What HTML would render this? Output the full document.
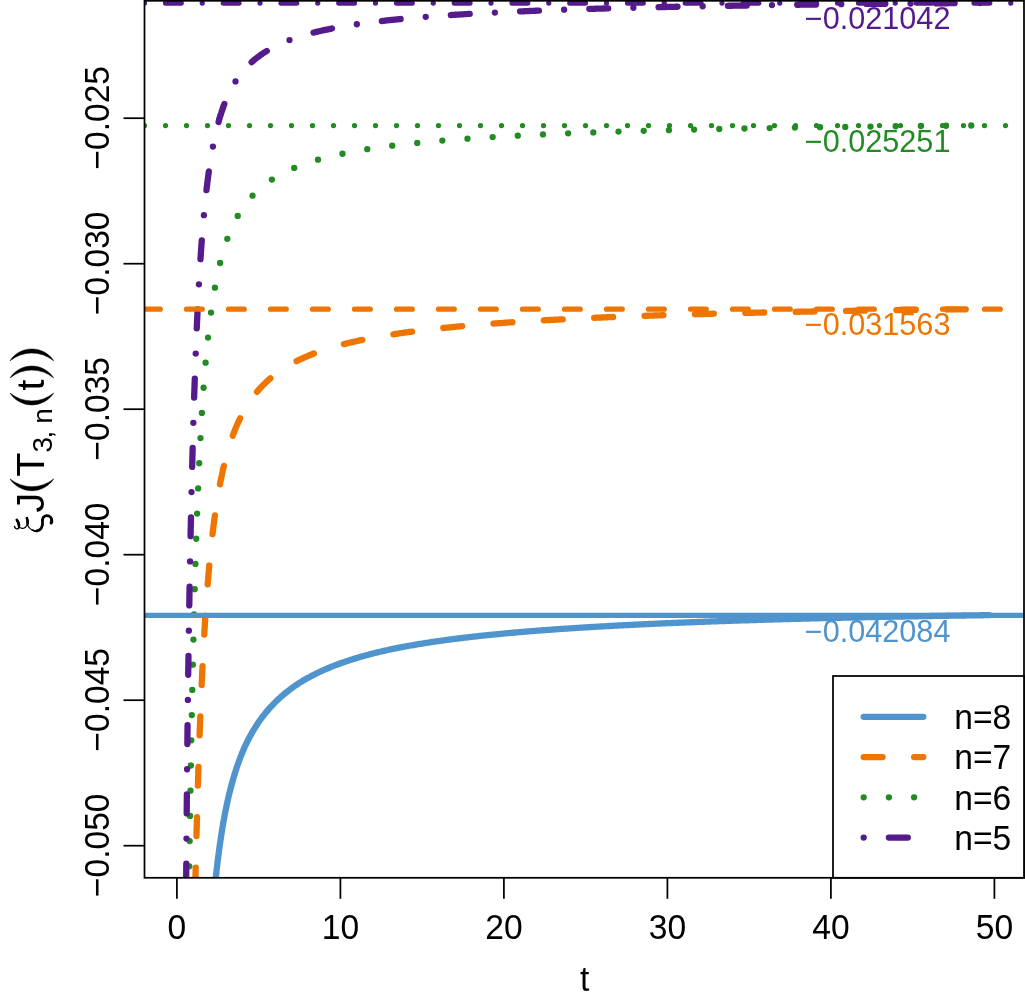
<!DOCTYPE html>
<html><head><meta charset="utf-8"><title>Chart</title><style>html,body{margin:0;padding:0;background:#fff;overflow:hidden}svg{display:block;will-change:transform}text{font-family:"Liberation Sans",sans-serif;}</style></head><body>
<svg width="1025" height="1002" viewBox="0 0 1025 1002">
<rect width="1025" height="1002" fill="#fff"/>
<defs><clipPath id="cp"><rect x="144.5" y="0.8" width="879.5" height="877.0"/></clipPath></defs>
<g clip-path="url(#cp)" fill="none" stroke-linecap="round" stroke-linejoin="round">
<path d="M214.67,887.87 L214.75,887.18 L214.82,886.48 L214.90,885.80 L214.97,885.11 L215.04,884.43 L215.12,883.75 L215.19,883.07 L215.26,882.40 L215.34,881.73 L215.41,881.06 L215.48,880.40 L215.56,879.74 L215.63,879.09 L215.71,878.43 L215.78,877.78 L215.85,877.14 L215.92,876.49 L215.99,875.85 L216.06,875.21 L216.13,874.58 L216.20,873.95 L216.27,873.32 L216.34,872.69 L216.41,872.07 L216.48,871.45 L216.55,870.84 L216.62,870.22 L216.69,869.61 L216.76,869.00 L216.83,868.40 L216.90,867.80 L216.97,867.20 L217.04,866.60 L217.11,866.01 L217.18,865.41 L217.25,864.83 L217.32,864.24 L217.39,863.66 L217.46,863.08 L217.53,862.50 L217.60,861.92 L217.67,861.35 L217.74,860.78 L217.81,860.21 L217.88,859.65 L217.95,859.09 L218.02,858.53 L218.09,857.97 L218.16,857.42 L218.23,856.86 L218.30,856.31 L218.37,855.77 L218.44,855.22 L218.51,854.68 L218.58,854.14 L218.65,853.60 L218.72,853.07 L218.79,852.53 L218.86,852.00 L218.93,851.48 L219.00,850.95 L219.07,850.43 L219.14,849.91 L219.21,849.39 L219.28,848.87 L219.35,848.36 L219.42,847.84 L219.49,847.33 L219.56,846.83 L219.63,846.32 L219.70,845.82 L219.77,845.31 L219.85,844.82 L219.92,844.32 L219.99,843.82 L220.06,843.33 L220.13,842.84 L220.20,842.35 L220.27,841.87 L220.34,841.38 L220.41,840.90 L220.48,840.42 L220.55,839.94 L220.62,839.46 L220.69,838.99 L220.76,838.52 L220.83,838.05 L220.90,837.58 L220.97,837.11 L221.05,836.65 L221.12,836.19 L221.19,835.72 L221.26,835.27 L221.33,834.81 L221.40,834.35 L221.47,833.90 L221.54,833.45 L221.61,833.00 L221.68,832.55 L221.75,832.11 L221.82,831.66 L221.89,831.22 L221.96,830.78 L222.04,830.34 L222.11,829.90 L222.18,829.47 L222.25,829.04 L222.32,828.60 L222.39,828.17 L222.46,827.75 L222.53,827.32 L222.60,826.90 L222.67,826.47 L222.74,826.05 L222.82,825.63 L222.89,825.21 L222.96,824.80 L223.03,824.38 L223.10,823.97 L223.17,823.56 L223.24,823.15 L223.31,822.74 L223.38,822.33 L223.46,821.93 L223.53,821.52 L223.60,821.12 L223.67,820.72 L223.74,820.32 L223.81,819.92 L223.88,819.53 L223.95,819.13 L224.02,818.74 L224.10,818.35 L224.17,817.96 L224.24,817.57 L224.31,817.19 L224.38,816.80 L224.45,816.42 L224.52,816.03 L224.59,815.65 L224.66,815.27 L224.74,814.90 L224.81,814.52 L224.88,814.14 L224.95,813.77 L225.02,813.40 L225.09,813.03 L225.16,812.66 L225.23,812.29 L225.31,811.92 L225.38,811.55 L225.45,811.19 L225.52,810.83 L226.76,804.76 L228.00,799.05 L229.27,793.68 L230.55,788.61 L231.82,783.82 L233.09,779.29 L234.37,774.99 L235.64,770.91 L236.92,767.04 L238.19,763.35 L239.47,759.83 L240.74,756.48 L242.01,753.28 L243.29,750.22 L244.56,747.30 L245.84,744.50 L247.15,741.82 L248.45,739.25 L249.75,736.77 L251.05,734.39 L252.35,732.10 L253.65,729.90 L254.95,727.78 L256.25,725.73 L257.54,723.75 L258.84,721.84 L260.13,720.00 L261.43,718.21 L262.72,716.49 L264.01,714.82 L265.30,713.20 L266.60,711.63 L267.89,710.11 L269.18,708.63 L270.47,707.20 L271.76,705.81 L273.05,704.46 L274.34,703.15 L275.62,701.86 L276.91,700.61 L278.19,699.39 L279.46,698.20 L280.74,697.04 L282.01,695.91 L283.29,694.81 L284.56,693.74 L285.84,692.69 L287.11,691.67 L288.38,690.67 L289.66,689.70 L290.93,688.75 L292.21,687.82 L293.48,686.91 L294.75,686.02 L296.03,685.15 L297.30,684.30 L298.58,683.47 L299.85,682.66 L301.13,681.86 L302.40,681.08 L303.67,680.31 L304.95,679.57 L306.22,678.83 L307.50,678.11 L308.77,677.41 L310.04,676.72 L311.32,676.04 L312.59,675.37 L313.87,674.72 L315.14,674.08 L316.41,673.45 L317.69,672.83 L318.96,672.22 L320.24,671.63 L321.51,671.04 L322.79,670.47 L324.06,669.90 L325.33,669.34 L326.61,668.79 L327.88,668.25 L329.16,667.72 L330.43,667.19 L331.70,666.68 L332.98,666.17 L334.25,665.67 L335.53,665.18 L336.80,664.69 L338.08,664.22 L339.35,663.75 L340.62,663.28 L341.90,662.83 L343.17,662.38 L344.45,661.94 L345.72,661.50 L346.99,661.07 L348.27,660.65 L349.54,660.23 L350.82,659.82 L352.09,659.42 L353.37,659.02 L354.64,658.63 L355.91,658.24 L357.19,657.86 L358.46,657.48 L359.74,657.10 L361.01,656.74 L362.28,656.37 L363.56,656.02 L364.83,655.66 L366.11,655.31 L367.38,654.97 L368.66,654.63 L369.93,654.29 L371.20,653.96 L372.48,653.64 L373.75,653.31 L375.03,652.99 L376.30,652.68 L377.57,652.37 L378.85,652.06 L380.12,651.75 L381.40,651.45 L382.67,651.16 L383.95,650.86 L385.22,650.57 L386.49,650.29 L387.77,650.00 L389.04,649.72 L390.32,649.45 L391.59,649.18 L392.86,648.92 L394.14,648.66 L395.41,648.40 L396.69,648.14 L397.96,647.89 L399.23,647.64 L400.51,647.39 L401.78,647.15 L403.06,646.90 L404.33,646.66 L405.61,646.43 L406.88,646.19 L408.15,645.96 L409.43,645.73 L410.70,645.50 L411.98,645.28 L413.25,645.06 L414.52,644.84 L415.80,644.62 L417.07,644.40 L418.35,644.19 L419.62,643.98 L420.90,643.77 L422.17,643.56 L423.44,643.36 L424.72,643.15 L425.99,642.95 L427.27,642.75 L428.54,642.56 L429.81,642.36 L431.09,642.17 L432.36,641.98 L433.64,641.79 L434.91,641.60 L436.19,641.41 L437.46,641.23 L438.73,641.05 L440.01,640.86 L441.28,640.69 L442.56,640.51 L443.83,640.33 L445.10,640.16 L446.38,639.98 L447.65,639.81 L448.93,639.64 L450.20,639.48 L451.48,639.31 L452.75,639.14 L454.02,638.98 L455.30,638.82 L456.57,638.66 L457.85,638.50 L459.12,638.34 L460.39,638.18 L461.67,638.03 L462.94,637.87 L464.22,637.72 L465.49,637.57 L466.77,637.42 L468.04,637.27 L469.31,637.12 L470.59,636.97 L471.86,636.83 L473.14,636.69 L474.41,636.54 L475.68,636.40 L476.96,636.26 L478.23,636.12 L479.51,635.98 L480.78,635.84 L482.05,635.71 L483.33,635.57 L484.60,635.44 L485.88,635.31 L487.15,635.17 L488.43,635.04 L489.70,634.91 L490.97,634.78 L492.25,634.66 L493.52,634.53 L494.80,634.40 L496.07,634.28 L497.34,634.15 L498.62,634.03 L499.89,633.91 L501.17,633.79 L502.44,633.67 L503.72,633.55 L504.99,633.43 L506.26,633.31 L507.54,633.20 L508.81,633.08 L510.09,632.96 L511.36,632.85 L512.63,632.74 L513.91,632.62 L515.18,632.51 L516.46,632.40 L517.73,632.29 L519.01,632.18 L520.28,632.07 L521.55,631.96 L522.83,631.86 L524.10,631.75 L525.38,631.64 L526.65,631.54 L527.92,631.44 L529.20,631.33 L530.47,631.23 L531.75,631.13 L533.02,631.03 L534.30,630.93 L535.57,630.83 L536.84,630.73 L538.12,630.63 L539.39,630.53 L540.67,630.43 L541.94,630.34 L543.21,630.24 L544.49,630.14 L545.76,630.05 L547.04,629.95 L548.31,629.86 L549.59,629.77 L550.86,629.68 L552.13,629.58 L553.41,629.49 L554.68,629.40 L555.96,629.31 L557.23,629.22 L558.50,629.13 L559.78,629.05 L561.05,628.96 L562.33,628.87 L563.60,628.78 L564.87,628.70 L566.15,628.61 L567.42,628.53 L568.70,628.44 L569.97,628.36 L571.25,628.28 L572.52,628.19 L573.79,628.11 L575.07,628.03 L576.34,627.95 L577.62,627.87 L578.89,627.79 L580.16,627.71 L581.44,627.63 L582.71,627.55 L583.99,627.47 L585.26,627.39 L586.54,627.31 L587.81,627.24 L589.08,627.16 L590.36,627.08 L591.63,627.01 L592.91,626.93 L594.18,626.86 L595.45,626.78 L596.73,626.71 L598.00,626.64 L599.28,626.56 L600.55,626.49 L601.83,626.42 L603.10,626.35 L604.37,626.27 L605.65,626.20 L606.92,626.13 L608.20,626.06 L609.47,625.99 L610.74,625.92 L612.02,625.85 L613.29,625.79 L614.57,625.72 L615.84,625.65 L617.12,625.58 L618.39,625.52 L619.66,625.45 L620.94,625.38 L622.21,625.32 L623.49,625.25 L624.76,625.19 L626.03,625.12 L627.31,625.06 L628.58,624.99 L629.86,624.93 L631.13,624.86 L632.40,624.80 L633.68,624.74 L634.95,624.68 L636.23,624.61 L637.50,624.55 L638.78,624.49 L640.05,624.43 L641.32,624.37 L642.60,624.31 L643.87,624.25 L645.15,624.19 L646.42,624.13 L647.69,624.07 L648.97,624.01 L650.24,623.95 L651.52,623.89 L652.79,623.84 L654.07,623.78 L655.34,623.72 L656.61,623.66 L657.89,623.61 L659.16,623.55 L660.44,623.49 L661.71,623.44 L662.98,623.38 L664.26,623.33 L665.53,623.27 L666.81,623.22 L668.08,623.16 L669.36,623.11 L670.63,623.06 L671.90,623.00 L673.18,622.95 L674.45,622.90 L675.73,622.84 L677.00,622.79 L678.27,622.74 L679.55,622.69 L680.82,622.63 L682.10,622.58 L683.37,622.53 L684.65,622.48 L685.92,622.43 L687.19,622.38 L688.47,622.33 L689.74,622.28 L691.02,622.23 L692.29,622.18 L693.56,622.13 L694.84,622.08 L696.11,622.03 L697.39,621.99 L698.66,621.94 L699.94,621.89 L701.21,621.84 L702.48,621.79 L703.76,621.75 L705.03,621.70 L706.31,621.65 L707.58,621.61 L708.85,621.56 L710.13,621.51 L711.40,621.47 L712.68,621.42 L713.95,621.38 L715.22,621.33 L716.50,621.29 L717.77,621.24 L719.05,621.20 L720.32,621.15 L721.60,621.11 L722.87,621.06 L724.14,621.02 L725.42,620.98 L726.69,620.93 L727.97,620.89 L729.24,620.85 L730.51,620.80 L731.79,620.76 L733.06,620.72 L734.34,620.68 L735.61,620.63 L736.89,620.59 L738.16,620.55 L739.43,620.51 L740.71,620.47 L741.98,620.43 L743.26,620.39 L744.53,620.35 L745.80,620.31 L747.08,620.27 L748.35,620.23 L749.63,620.19 L750.90,620.15 L752.18,620.11 L753.45,620.07 L754.72,620.03 L756.00,619.99 L757.27,619.95 L758.55,619.91 L759.82,619.87 L761.09,619.84 L762.37,619.80 L763.64,619.76 L764.92,619.72 L766.19,619.68 L767.47,619.65 L768.74,619.61 L770.01,619.57 L771.29,619.54 L772.56,619.50 L773.84,619.46 L775.11,619.43 L776.38,619.39 L777.66,619.35 L778.93,619.32 L780.21,619.28 L781.48,619.25 L782.76,619.21 L784.03,619.18 L785.30,619.14 L786.58,619.11 L787.85,619.07 L789.13,619.04 L790.40,619.00 L791.67,618.97 L792.95,618.93 L794.22,618.90 L795.50,618.87 L796.77,618.83 L798.04,618.80 L799.32,618.77 L800.59,618.73 L801.87,618.70 L803.14,618.67 L804.42,618.63 L805.69,618.60 L806.96,618.57 L808.24,618.54 L809.51,618.51 L810.79,618.47 L812.06,618.44 L813.33,618.41 L814.61,618.38 L815.88,618.35 L817.16,618.31 L818.43,618.28 L819.71,618.25 L820.98,618.22 L822.25,618.19 L823.53,618.16 L824.80,618.13 L826.08,618.10 L827.35,618.07 L828.62,618.04 L829.90,618.01 L831.17,617.98 L832.45,617.95 L833.72,617.92 L835.00,617.89 L836.27,617.86 L837.54,617.83 L838.82,617.80 L840.09,617.77 L841.37,617.75 L842.64,617.72 L843.91,617.69 L845.19,617.66 L846.46,617.63 L847.74,617.60 L849.01,617.58 L850.29,617.55 L851.56,617.52 L852.83,617.49 L854.11,617.46 L855.38,617.44 L856.66,617.41 L857.93,617.38 L859.20,617.36 L860.48,617.33 L861.75,617.30 L863.03,617.28 L864.30,617.25 L865.58,617.22 L866.85,617.20 L868.12,617.17 L869.40,617.14 L870.67,617.12 L871.95,617.09 L873.22,617.07 L874.49,617.04 L875.77,617.01 L877.04,616.99 L878.32,616.96 L879.59,616.94 L880.86,616.91 L882.14,616.89 L883.41,616.86 L884.69,616.84 L885.96,616.81 L887.24,616.79 L888.51,616.77 L889.78,616.74 L891.06,616.72 L892.33,616.69 L893.61,616.67 L894.88,616.64 L896.15,616.62 L897.43,616.60 L898.70,616.57 L899.98,616.55 L901.25,616.53 L902.53,616.50 L903.80,616.48 L905.07,616.46 L906.35,616.43 L907.62,616.41 L908.90,616.39 L910.17,616.37 L911.44,616.34 L912.72,616.32 L913.99,616.30 L915.27,616.28 L916.54,616.25 L917.82,616.23 L919.09,616.21 L920.36,616.19 L921.64,616.17 L922.91,616.14 L924.19,616.12 L925.46,616.10 L926.73,616.08 L928.01,616.06 L929.28,616.04 L930.56,616.02 L931.83,616.00 L933.11,615.97 L934.38,615.95 L935.65,615.93 L936.93,615.91 L938.20,615.89 L939.48,615.87 L940.75,615.85 L942.02,615.83 L943.30,615.81 L944.57,615.79 L945.85,615.77 L947.12,615.75 L948.40,615.73 L949.67,615.71 L950.94,615.69 L952.22,615.67 L953.49,615.65 L954.77,615.63 L956.04,615.61 L957.31,615.59 L958.59,615.58 L959.86,615.56 L961.14,615.54 L962.41,615.52 L963.68,615.50 L964.96,615.48 L966.23,615.46 L967.51,615.44 L968.78,615.43 L970.06,615.41 L971.33,615.39 L972.60,615.37 L973.88,615.35 L975.15,615.33 L976.43,615.32 L977.70,615.30 L978.97,615.28 L980.25,615.26 L981.52,615.25 L982.80,615.23 L984.07,615.21 L985.35,615.19 L986.62,615.18 L987.89,615.16 L989.17,615.14" stroke="#4F94CD" stroke-width="6.3"/>
<path d="M195.20,889.27 L195.28,885.99 L195.35,882.73 L195.42,879.50 L195.50,876.30 L195.57,873.12 L195.64,869.98 L195.72,866.86 L195.79,863.76 L195.87,860.70 L195.94,857.66 L196.01,854.65 L196.09,851.66 L196.16,848.70 L196.23,845.76 L196.31,842.85 L196.38,839.97 L196.45,837.10 L196.53,834.27 L196.60,831.46 L196.68,828.67 L196.75,825.90 L196.82,823.16 L196.90,820.44 L196.97,817.75 L197.04,815.07 L197.12,812.42 L197.19,809.80 L197.27,807.19 L197.34,804.61 L197.41,802.04 L197.49,799.50 L197.56,796.98 L197.63,794.49 L197.71,792.01 L197.78,789.55 L197.86,787.11 L197.93,784.70 L198.00,782.30 L198.08,779.92 L198.15,777.56 L198.22,775.23 L198.30,772.91 L198.37,770.61 L198.44,768.32 L198.52,766.06 L198.59,763.82 L198.67,761.59 L198.74,759.38 L198.81,757.19 L198.89,755.02 L198.96,752.86 L199.03,750.73 L199.11,748.61 L199.18,746.50 L199.26,744.42 L199.33,742.34 L199.40,740.29 L199.48,738.25 L199.55,736.23 L199.62,734.23 L199.70,732.24 L199.77,730.26 L199.85,728.31 L199.92,726.36 L199.99,724.43 L200.07,722.52 L200.14,720.62 L200.21,718.74 L200.29,716.87 L200.36,715.02 L200.43,713.18 L200.51,711.35 L200.58,709.54 L200.66,707.75 L200.73,705.96 L200.80,704.19 L200.88,702.44 L200.95,700.69 L201.02,698.97 L201.10,697.25 L201.17,695.55 L201.25,693.85 L201.32,692.18 L201.39,690.51 L201.47,688.86 L201.54,687.22 L201.61,685.59 L201.69,683.98 L201.76,682.37 L201.83,680.78 L201.91,679.20 L201.98,677.63 L202.06,676.08 L202.13,674.53 L202.20,673.00 L202.28,671.47 L202.35,669.96 L202.42,668.46 L202.50,666.97 L202.57,665.49 L202.65,664.03 L202.72,662.57 L202.79,661.12 L202.87,659.69 L202.94,658.26 L203.01,656.85 L203.09,655.44 L203.16,654.04 L203.24,652.66 L203.31,651.28 L203.38,649.92 L203.46,648.56 L203.53,647.21 L203.60,645.88 L203.68,644.55 L203.75,643.23 L203.82,641.92 L203.90,640.62 L203.97,639.33 L204.05,638.05 L204.12,636.78 L204.19,635.51 L204.27,634.26 L204.34,633.01 L204.41,631.77 L204.49,630.54 L204.56,629.32 L204.64,628.11 L204.71,626.90 L204.78,625.71 L204.86,624.52 L204.93,623.34 L205.00,622.17 L205.08,621.00 L205.15,619.85 L205.23,618.70 L205.30,617.56 L205.37,616.42 L205.45,615.30 L205.52,614.18 L205.59,613.07 L205.67,611.97 L205.74,610.87 L205.81,609.78 L205.89,608.70 L205.96,607.62 L206.04,606.56 L206.11,605.50 L206.18,604.44 L206.26,603.39 L206.33,602.35 L206.40,601.32 L206.48,600.29 L206.55,599.27 L206.63,598.26 L206.70,597.25 L206.77,596.25 L206.85,595.26 L206.92,594.27 L206.99,593.29 L207.07,592.31 L207.14,591.34 L207.21,590.38 L207.29,589.42 L207.36,588.47 L207.44,587.53 L207.51,586.59 L207.58,585.66 L207.66,584.73 L207.73,583.81 L207.80,582.89 L207.88,581.98 L207.95,581.08 L208.03,580.18 L208.10,579.28 L208.17,578.40 L208.25,577.51 L208.32,576.64 L208.39,575.76 L208.47,574.90 L208.54,574.04 L208.62,573.18 L208.69,572.33 L208.76,571.48 L208.84,570.64 L208.91,569.81 L208.98,568.98 L209.06,568.15 L209.13,567.33 L209.20,566.51 L209.28,565.70 L209.35,564.90 L209.43,564.10 L209.50,563.30 L209.57,562.51 L209.65,561.72 L209.72,560.94 L209.79,560.16 L209.87,559.38 L209.94,558.62 L210.02,557.85 L210.09,557.09 L210.16,556.33 L210.24,555.58 L210.31,554.84 L210.38,554.09 L210.46,553.35 L210.53,552.62 L210.60,551.89 L210.68,551.16 L210.75,550.44 L210.83,549.72 L210.90,549.01 L210.97,548.30 L211.05,547.59 L211.12,546.89 L211.19,546.19 L211.27,545.50 L211.34,544.81 L211.42,544.12 L211.49,543.44 L211.56,542.76 L211.64,542.09 L211.71,541.41 L211.78,540.75 L211.86,540.08 L211.93,539.42 L212.01,538.77 L212.08,538.11 L212.15,537.46 L212.23,536.82 L212.30,536.17 L212.37,535.53 L212.45,534.90 L212.52,534.27 L212.59,533.64 L212.67,533.01 L212.74,532.39 L212.82,531.77 L212.89,531.16 L212.96,530.54 L213.04,529.93 L213.11,529.33 L213.18,528.73 L213.26,528.13 L213.33,527.53 L213.41,526.94 L213.48,526.35 L213.55,525.76 L213.63,525.18 L213.70,524.59 L213.77,524.02 L213.85,523.44 L213.92,522.87 L214.00,522.30 L214.07,521.73 L214.14,521.17 L214.22,520.61 L214.29,520.05 L214.36,519.50 L214.44,518.95 L214.51,518.40 L214.58,517.85 L214.66,517.31 L214.73,516.77 L214.81,516.23 L214.88,515.69 L214.95,515.16 L215.03,514.63 L215.10,514.10 L215.17,513.58 L215.25,513.06 L215.32,512.54 L215.40,512.02 L215.47,511.51 L215.54,511.00 L215.62,510.49 L215.69,509.98 L215.76,509.47 L215.84,508.97 L215.91,508.47 L215.98,507.98 L216.06,507.48 L216.13,506.99 L216.21,506.50 L216.28,506.01 L216.35,505.53 L216.43,505.04 L216.50,504.56 L216.57,504.09 L216.65,503.61 L216.72,503.14 L216.80,502.67 L216.87,502.20 L216.94,501.73 L217.02,501.26 L217.09,500.80 L217.16,500.34 L217.24,499.88 L217.31,499.43 L217.39,498.97 L217.46,498.52 L217.53,498.07 L217.61,497.62 L217.68,497.18 L217.75,496.74 L217.83,496.29 L217.90,495.86 L217.97,495.42 L218.05,494.98 L218.12,494.55 L218.20,494.12 L218.27,493.69 L218.34,493.26 L218.42,492.84 L218.49,492.41 L218.56,491.99 L218.64,491.57 L218.71,491.15 L218.79,490.74 L218.86,490.32 L218.93,489.91 L219.01,489.50 L219.08,489.09 L219.15,488.68 L219.23,488.28 L219.30,487.88 L219.38,487.48 L219.45,487.08 L219.52,486.68 L219.60,486.28 L219.67,485.89 L219.74,485.49 L219.82,485.10 L219.89,484.71 L219.96,484.33 L220.04,483.94 L220.11,483.56 L220.19,483.17 L220.26,482.79 L220.33,482.41 L220.41,482.04 L220.48,481.66 L220.55,481.29 L220.63,480.91 L220.70,480.54 L220.78,480.17 L220.85,479.81 L220.92,479.44 L221.00,479.07 L221.07,478.71 L221.14,478.35 L221.22,477.99 L221.29,477.63 L221.36,477.27 L221.44,476.92 L221.51,476.56 L221.59,476.21 L221.66,475.86 L221.73,475.51 L221.81,475.16 L221.88,474.81 L221.95,474.47 L222.03,474.12 L222.10,473.78 L222.18,473.44 L222.25,473.10 L222.32,472.76 L222.40,472.43 L222.47,472.09 L222.54,471.76 L222.62,471.42 L222.69,471.09 L222.77,470.76 L222.84,470.43 L222.91,470.10 L222.99,469.78 L223.06,469.45 L223.13,469.13 L223.21,468.81 L223.28,468.49 L223.35,468.17 L223.43,467.85 L223.50,467.53 L223.58,467.21 L223.65,466.90 L223.72,466.58 L223.80,466.27 L223.87,465.96 L223.94,465.65 L224.02,465.34 L224.09,465.04 L224.17,464.73 L224.24,464.42 L224.31,464.12 L224.39,463.82 L224.46,463.52 L224.53,463.22 L224.61,462.92 L224.68,462.62 L224.75,462.32 L224.83,462.03 L224.90,461.73 L224.98,461.44 L225.05,461.15 L225.12,460.85 L225.20,460.56 L225.27,460.28 L225.34,459.99 L225.42,459.70 L225.49,459.41 L225.57,459.13 L225.64,458.85 L225.71,458.56 L225.79,458.28 L225.86,458.00 L225.93,457.72 L226.01,457.44 L226.08,457.17 L226.16,456.89 L226.23,456.62 L226.30,456.34 L226.38,456.07 L226.45,455.80 L227.72,451.24 L229.00,446.96 L230.27,442.93 L231.55,439.13 L232.82,435.54 L234.09,432.14 L235.37,428.92 L236.64,425.86 L237.92,422.95 L239.19,420.19 L240.47,417.55 L241.74,415.03 L243.01,412.63 L244.29,410.33 L245.56,408.13 L246.84,406.03 L248.11,404.00 L249.38,402.06 L250.66,400.20 L251.92,398.41 L253.18,396.68 L254.45,395.02 L255.71,393.42 L256.97,391.87 L258.24,390.38 L259.50,388.94 L260.76,387.55 L262.03,386.20 L263.29,384.90 L264.56,383.64 L265.82,382.41 L267.09,381.23 L268.35,380.08 L269.62,378.96 L270.89,377.88 L272.15,376.83 L273.42,375.81 L274.69,374.81 L275.96,373.85 L277.22,372.91 L278.49,371.99 L279.76,371.10 L281.03,370.23 L282.29,369.39 L283.56,368.56 L284.83,367.76 L286.10,366.97 L287.37,366.20 L288.64,365.46 L289.91,364.73 L291.17,364.01 L292.44,363.31 L293.71,362.63 L294.98,361.97 L296.25,361.31 L297.52,360.68 L298.79,360.05 L300.06,359.44 L301.33,358.84 L302.60,358.26 L303.87,357.69 L305.14,357.12 L306.41,356.57 L307.68,356.03 L308.95,355.51 L310.22,354.99 L311.49,354.48 L312.76,353.98 L314.03,353.49 L315.31,353.01 L316.58,352.54 L317.85,352.07 L319.12,351.62 L320.39,351.17 L321.66,350.73 L322.93,350.30 L324.20,349.88 L325.47,349.46 L326.74,349.05 L328.02,348.65 L329.29,348.25 L330.56,347.87 L331.83,347.48 L333.10,347.11 L334.37,346.74 L335.64,346.37 L336.92,346.01 L338.19,345.66 L339.46,345.31 L340.73,344.97 L342.00,344.63 L343.27,344.30 L344.55,343.97 L345.82,343.65 L347.09,343.33 L348.36,343.02 L349.63,342.71 L350.91,342.41 L352.18,342.11 L353.45,341.82 L354.72,341.52 L355.99,341.24 L357.27,340.96 L358.54,340.68 L359.81,340.40 L361.08,340.13 L362.35,339.86 L363.63,339.60 L364.90,339.34 L366.17,339.08 L367.44,338.83 L368.72,338.58 L369.99,338.33 L371.26,338.08 L372.53,337.84 L373.81,337.61 L375.08,337.37 L376.35,337.14 L377.62,336.91 L378.90,336.68 L380.17,336.46 L381.44,336.24 L382.71,336.02 L383.99,335.80 L385.26,335.59 L386.53,335.38 L387.80,335.17 L389.08,334.97 L390.35,334.76 L391.62,334.56 L392.90,334.36 L394.17,334.17 L395.44,333.97 L396.71,333.78 L397.99,333.59 L399.26,333.40 L400.53,333.22 L401.80,333.03 L403.08,332.85 L404.35,332.67 L405.62,332.49 L406.90,332.32 L408.17,332.14 L409.44,331.97 L410.72,331.80 L411.99,331.63 L413.26,331.47 L414.53,331.30 L415.81,331.14 L417.08,330.98 L418.35,330.82 L419.63,330.66 L420.90,330.50 L422.17,330.35 L423.45,330.19 L424.72,330.04 L425.99,329.89 L427.27,329.74 L428.54,329.59 L429.81,329.45 L431.09,329.30 L432.36,329.16 L433.64,329.01 L434.91,328.87 L436.19,328.73 L437.46,328.60 L438.73,328.46 L440.01,328.32 L441.28,328.19 L442.56,328.06 L443.83,327.92 L445.10,327.79 L446.38,327.66 L447.65,327.54 L448.93,327.41 L450.20,327.28 L451.48,327.16 L452.75,327.03 L454.02,326.91 L455.30,326.79 L456.57,326.67 L457.85,326.55 L459.12,326.43 L460.39,326.31 L461.67,326.19 L462.94,326.08 L464.22,325.96 L465.49,325.85 L466.77,325.74 L468.04,325.63 L469.31,325.52 L470.59,325.41 L471.86,325.30 L473.14,325.19 L474.41,325.08 L475.68,324.98 L476.96,324.87 L478.23,324.77 L479.51,324.66 L480.78,324.56 L482.05,324.46 L483.33,324.35 L484.60,324.25 L485.88,324.15 L487.15,324.06 L488.43,323.96 L489.70,323.86 L490.97,323.76 L492.25,323.67 L493.52,323.57 L494.80,323.48 L496.07,323.38 L497.34,323.29 L498.62,323.20 L499.89,323.11 L501.17,323.02 L502.44,322.93 L503.72,322.84 L504.99,322.75 L506.26,322.66 L507.54,322.57 L508.81,322.48 L510.09,322.40 L511.36,322.31 L512.63,322.23 L513.91,322.14 L515.18,322.06 L516.46,321.98 L517.73,321.89 L519.01,321.81 L520.28,321.73 L521.55,321.65 L522.83,321.57 L524.10,321.49 L525.38,321.41 L526.65,321.33 L527.92,321.25 L529.20,321.17 L530.47,321.10 L531.75,321.02 L533.02,320.94 L534.30,320.87 L535.57,320.79 L536.84,320.72 L538.12,320.65 L539.39,320.57 L540.67,320.50 L541.94,320.43 L543.21,320.35 L544.49,320.28 L545.76,320.21 L547.04,320.14 L548.31,320.07 L549.59,320.00 L550.86,319.93 L552.13,319.86 L553.41,319.79 L554.68,319.73 L555.96,319.66 L557.23,319.59 L558.50,319.53 L559.78,319.46 L561.05,319.39 L562.33,319.33 L563.60,319.26 L564.87,319.20 L566.15,319.13 L567.42,319.07 L568.70,319.01 L569.97,318.94 L571.25,318.88 L572.52,318.82 L573.79,318.76 L575.07,318.70 L576.34,318.64 L577.62,318.57 L578.89,318.51 L580.16,318.45 L581.44,318.39 L582.71,318.34 L583.99,318.28 L585.26,318.22 L586.54,318.16 L587.81,318.10 L589.08,318.04 L590.36,317.99 L591.63,317.93 L592.91,317.87 L594.18,317.82 L595.45,317.76 L596.73,317.71 L598.00,317.65 L599.28,317.60 L600.55,317.54 L601.83,317.49 L603.10,317.43 L604.37,317.38 L605.65,317.33 L606.92,317.27 L608.20,317.22 L609.47,317.17 L610.74,317.12 L612.02,317.07 L613.29,317.01 L614.57,316.96 L615.84,316.91 L617.12,316.86 L618.39,316.81 L619.66,316.76 L620.94,316.71 L622.21,316.66 L623.49,316.61 L624.76,316.56 L626.03,316.52 L627.31,316.47 L628.58,316.42 L629.86,316.37 L631.13,316.32 L632.40,316.28 L633.68,316.23 L634.95,316.18 L636.23,316.14 L637.50,316.09 L638.78,316.04 L640.05,316.00 L641.32,315.95 L642.60,315.91 L643.87,315.86 L645.15,315.82 L646.42,315.77 L647.69,315.73 L648.97,315.68 L650.24,315.64 L651.52,315.60 L652.79,315.55 L654.07,315.51 L655.34,315.47 L656.61,315.42 L657.89,315.38 L659.16,315.34 L660.44,315.30 L661.71,315.25 L662.98,315.21 L664.26,315.17 L665.53,315.13 L666.81,315.09 L668.08,315.05 L669.36,315.01 L670.63,314.97 L671.90,314.93 L673.18,314.89 L674.45,314.85 L675.73,314.81 L677.00,314.77 L678.27,314.73 L679.55,314.69 L680.82,314.65 L682.10,314.61 L683.37,314.57 L684.65,314.54 L685.92,314.50 L687.19,314.46 L688.47,314.42 L689.74,314.38 L691.02,314.35 L692.29,314.31 L693.56,314.27 L694.84,314.24 L696.11,314.20 L697.39,314.16 L698.66,314.13 L699.94,314.09 L701.21,314.06 L702.48,314.02 L703.76,313.98 L705.03,313.95 L706.31,313.91 L707.58,313.88 L708.85,313.84 L710.13,313.81 L711.40,313.78 L712.68,313.74 L713.95,313.71 L715.22,313.67 L716.50,313.64 L717.77,313.61 L719.05,313.57 L720.32,313.54 L721.60,313.51 L722.87,313.47 L724.14,313.44 L725.42,313.41 L726.69,313.37 L727.97,313.34 L729.24,313.31 L730.51,313.28 L731.79,313.25 L733.06,313.21 L734.34,313.18 L735.61,313.15 L736.89,313.12 L738.16,313.09 L739.43,313.06 L740.71,313.03 L741.98,313.00 L743.26,312.97 L744.53,312.93 L745.80,312.90 L747.08,312.87 L748.35,312.84 L749.63,312.81 L750.90,312.78 L752.18,312.76 L753.45,312.73 L754.72,312.70 L756.00,312.67 L757.27,312.64 L758.55,312.61 L759.82,312.58 L761.09,312.55 L762.37,312.52 L763.64,312.49 L764.92,312.47 L766.19,312.44 L767.47,312.41 L768.74,312.38 L770.01,312.35 L771.29,312.33 L772.56,312.30 L773.84,312.27 L775.11,312.24 L776.38,312.22 L777.66,312.19 L778.93,312.16 L780.21,312.14 L781.48,312.11 L782.76,312.08 L784.03,312.06 L785.30,312.03 L786.58,312.01 L787.85,311.98 L789.13,311.95 L790.40,311.93 L791.67,311.90 L792.95,311.88 L794.22,311.85 L795.50,311.83 L796.77,311.80 L798.04,311.77 L799.32,311.75 L800.59,311.72 L801.87,311.70 L803.14,311.68 L804.42,311.65 L805.69,311.63 L806.96,311.60 L808.24,311.58 L809.51,311.55 L810.79,311.53 L812.06,311.51 L813.33,311.48 L814.61,311.46 L815.88,311.43 L817.16,311.41 L818.43,311.39 L819.71,311.36 L820.98,311.34 L822.25,311.32 L823.53,311.30 L824.80,311.27 L826.08,311.25 L827.35,311.23 L828.62,311.20 L829.90,311.18 L831.17,311.16 L832.45,311.14 L833.72,311.12 L835.00,311.09 L836.27,311.07 L837.54,311.05 L838.82,311.03 L840.09,311.01 L841.37,310.98 L842.64,310.96 L843.91,310.94 L845.19,310.92 L846.46,310.90 L847.74,310.88 L849.01,310.86 L850.29,310.84 L851.56,310.81 L852.83,310.79 L854.11,310.77 L855.38,310.75 L856.66,310.73 L857.93,310.71 L859.20,310.69 L860.48,310.67 L861.75,310.65 L863.03,310.63 L864.30,310.61 L865.58,310.59 L866.85,310.57 L868.12,310.55 L869.40,310.53 L870.67,310.51 L871.95,310.49 L873.22,310.47 L874.49,310.45 L875.77,310.44 L877.04,310.42 L878.32,310.40 L879.59,310.38 L880.86,310.36 L882.14,310.34 L883.41,310.32 L884.69,310.30 L885.96,310.29 L887.24,310.27 L888.51,310.25 L889.78,310.23 L891.06,310.21 L892.33,310.19 L893.61,310.18 L894.88,310.16 L896.15,310.14 L897.43,310.12 L898.70,310.10 L899.98,310.09 L901.25,310.07 L902.53,310.05 L903.80,310.03 L905.07,310.02 L906.35,310.00 L907.62,309.98 L908.90,309.97 L910.17,309.95 L911.44,309.93 L912.72,309.92 L913.99,309.90 L915.27,309.88 L916.54,309.87 L917.82,309.85 L919.09,309.83 L920.36,309.82 L921.64,309.80 L922.91,309.78 L924.19,309.77 L925.46,309.75 L926.73,309.73 L928.01,309.72 L929.28,309.70 L930.56,309.69 L931.83,309.67 L933.11,309.66 L934.38,309.64 L935.65,309.62 L936.93,309.61 L938.20,309.59 L939.48,309.58 L940.75,309.56 L942.02,309.55 L943.30,309.53 L944.57,309.52 L945.85,309.50 L947.12,309.49 L948.40,309.47 L949.67,309.46 L950.94,309.44 L952.22,309.43 L953.49,309.41 L954.77,309.40 L956.04,309.39 L957.31,309.37 L958.59,309.36 L959.86,309.34 L961.14,309.33 L962.41,309.31 L963.68,309.30 L964.96,309.29 L966.23,309.27 L967.51,309.26 L968.78,309.24 L970.06,309.23 L971.33,309.22 L972.60,309.20 L973.88,309.19 L975.15,309.18 L976.43,309.16 L977.70,309.15 L978.97,309.14 L980.25,309.12 L981.52,309.11 L982.80,309.10 L984.07,309.08 L985.35,309.07 L986.62,309.06 L987.89,309.04 L989.17,309.03" stroke="#EE7600" stroke-width="6.3" stroke-dasharray="18.9 31.5" stroke-dashoffset="47.6"/>
<path d="M189.03,888.49 L189.10,882.78 L189.17,877.15 L189.25,871.60 L189.32,866.12 L189.40,860.71 L189.47,855.38 L189.54,850.11 L189.62,844.91 L189.69,839.78 L189.76,834.70 L189.84,829.69 L189.91,824.74 L189.99,819.84 L190.06,815.00 L190.13,810.21 L190.21,805.48 L190.28,800.80 L190.35,796.17 L190.43,791.59 L190.50,787.06 L190.58,782.58 L190.65,778.14 L190.72,773.75 L190.80,769.41 L190.87,765.11 L190.94,760.85 L191.02,756.64 L191.09,752.47 L191.16,748.34 L191.24,744.25 L191.31,740.20 L191.39,736.19 L191.46,732.22 L191.53,728.28 L191.61,724.39 L191.68,720.53 L191.75,716.71 L191.83,712.93 L191.90,709.18 L191.98,705.47 L192.05,701.79 L192.12,698.15 L192.20,694.54 L192.27,690.96 L192.34,687.42 L192.42,683.91 L192.49,680.44 L192.56,676.99 L192.64,673.58 L192.71,670.20 L192.79,666.85 L192.86,663.53 L192.93,660.24 L193.01,656.98 L193.08,653.75 L193.15,650.54 L193.23,647.37 L193.30,644.23 L193.38,641.11 L193.45,638.03 L193.52,634.97 L193.60,631.94 L193.67,628.93 L193.74,625.95 L193.82,623.00 L193.89,620.08 L193.97,617.18 L194.04,614.30 L194.11,611.46 L194.19,608.63 L194.26,605.84 L194.33,603.06 L194.41,600.31 L194.48,597.59 L194.55,594.89 L194.63,592.21 L194.70,589.56 L194.78,586.93 L194.85,584.32 L194.92,581.74 L195.00,579.18 L195.07,576.64 L195.14,574.12 L195.22,571.63 L195.29,569.15 L195.37,566.70 L195.44,564.27 L195.51,561.86 L195.59,559.47 L195.66,557.10 L195.73,554.75 L195.81,552.42 L195.88,550.11 L195.95,547.82 L196.03,545.55 L196.10,543.30 L196.18,541.07 L196.25,538.86 L196.32,536.67 L196.40,534.49 L196.47,532.34 L196.54,530.20 L196.62,528.08 L196.69,525.98 L196.77,523.89 L196.84,521.83 L196.91,519.78 L196.99,517.74 L197.06,515.73 L197.13,513.73 L197.21,511.75 L197.28,509.78 L197.36,507.83 L197.43,505.90 L197.50,503.98 L197.58,502.08 L197.65,500.19 L197.72,498.32 L197.80,496.47 L197.87,494.62 L197.94,492.80 L198.02,490.99 L198.09,489.19 L198.17,487.41 L198.24,485.65 L198.31,483.89 L198.39,482.16 L198.46,480.43 L198.53,478.72 L198.61,477.02 L198.68,475.34 L198.76,473.67 L198.83,472.02 L198.90,470.37 L198.98,468.74 L199.05,467.13 L199.12,465.52 L199.20,463.93 L199.27,462.35 L199.35,460.78 L199.42,459.23 L199.49,457.69 L199.57,456.16 L199.64,454.64 L199.71,453.13 L199.79,451.64 L199.86,450.16 L199.93,448.68 L200.01,447.22 L200.08,445.78 L200.16,444.34 L200.23,442.91 L200.30,441.49 L200.38,440.09 L200.45,438.70 L200.52,437.31 L200.60,435.94 L200.67,434.58 L200.75,433.22 L200.82,431.88 L200.89,430.55 L200.97,429.23 L201.04,427.92 L201.11,426.61 L201.19,425.32 L201.26,424.04 L201.33,422.76 L201.41,421.50 L201.48,420.25 L201.56,419.00 L201.63,417.76 L201.70,416.54 L201.78,415.32 L201.85,414.11 L201.92,412.91 L202.00,411.72 L202.07,410.54 L202.15,409.36 L202.22,408.20 L202.29,407.04 L202.37,405.89 L202.44,404.75 L202.51,403.62 L202.59,402.49 L202.66,401.38 L202.74,400.27 L202.81,399.17 L202.88,398.07 L202.96,396.99 L203.03,395.91 L203.10,394.84 L203.18,393.78 L203.25,392.73 L203.32,391.68 L203.40,390.64 L203.47,389.61 L203.55,388.58 L203.62,387.56 L203.69,386.55 L203.77,385.55 L203.84,384.55 L203.91,383.56 L203.99,382.57 L204.06,381.60 L204.14,380.63 L204.21,379.66 L204.28,378.71 L204.36,377.76 L204.43,376.81 L204.50,375.87 L204.58,374.94 L204.65,374.02 L204.73,373.10 L204.80,372.19 L204.87,371.28 L204.95,370.38 L205.02,369.48 L205.09,368.60 L205.17,367.71 L205.24,366.84 L205.31,365.96 L205.39,365.10 L205.46,364.24 L205.54,363.38 L205.61,362.54 L205.68,361.69 L205.76,360.86 L205.83,360.02 L205.90,359.20 L205.98,358.38 L206.05,357.56 L206.13,356.75 L206.20,355.94 L206.27,355.14 L206.35,354.35 L206.42,353.56 L206.49,352.77 L206.57,351.99 L206.64,351.22 L206.71,350.45 L206.79,349.68 L206.86,348.92 L206.94,348.16 L207.01,347.41 L207.08,346.67 L207.16,345.92 L207.23,345.19 L207.30,344.45 L207.38,343.73 L207.45,343.00 L207.53,342.28 L207.60,341.57 L207.67,340.86 L207.75,340.15 L207.82,339.45 L207.89,338.75 L207.97,338.06 L208.04,337.37 L208.12,336.68 L208.19,336.00 L208.26,335.33 L208.34,334.65 L208.41,333.99 L208.48,333.32 L208.56,332.66 L208.63,332.00 L208.70,331.35 L208.78,330.70 L208.85,330.06 L208.93,329.42 L209.00,328.78 L209.07,328.15 L209.15,327.52 L209.22,326.89 L209.29,326.27 L209.37,325.65 L209.44,325.03 L209.52,324.42 L209.59,323.81 L209.66,323.21 L209.74,322.61 L209.81,322.01 L209.88,321.41 L209.96,320.82 L210.03,320.24 L210.10,319.65 L210.18,319.07 L210.25,318.49 L210.33,317.92 L210.40,317.35 L210.47,316.78 L210.55,316.21 L210.62,315.65 L210.69,315.09 L210.77,314.54 L210.84,313.99 L210.92,313.44 L210.99,312.89 L211.06,312.35 L211.14,311.81 L211.21,311.27 L211.28,310.74 L211.36,310.21 L211.43,309.68 L211.51,309.15 L211.58,308.63 L211.65,308.11 L211.73,307.59 L211.80,307.08 L211.87,306.57 L211.95,306.06 L212.02,305.55 L212.09,305.05 L212.17,304.55 L212.24,304.05 L212.32,303.56 L212.39,303.06 L212.46,302.57 L212.54,302.09 L212.61,301.60 L212.68,301.12 L212.76,300.64 L212.83,300.16 L212.91,299.69 L212.98,299.22 L213.05,298.75 L213.13,298.28 L213.20,297.82 L213.27,297.35 L213.35,296.89 L213.42,296.44 L213.50,295.98 L213.57,295.53 L213.64,295.08 L213.72,294.63 L213.79,294.18 L213.86,293.74 L213.94,293.30 L214.01,292.86 L214.08,292.42 L214.16,291.99 L214.23,291.55 L214.31,291.12 L214.38,290.70 L214.45,290.27 L214.53,289.85 L214.60,289.42 L214.67,289.00 L214.75,288.59 L214.82,288.17 L214.90,287.76 L214.97,287.35 L215.04,286.94 L215.12,286.53 L215.19,286.12 L215.26,285.72 L215.34,285.32 L215.41,284.92 L215.48,284.52 L215.56,284.13 L215.63,283.73 L215.71,283.34 L215.78,282.95 L215.85,282.56 L215.93,282.18 L216.00,281.79 L216.07,281.41 L216.15,281.03 L216.22,280.65 L216.30,280.27 L216.37,279.90 L216.44,279.52 L216.52,279.15 L216.59,278.78 L216.66,278.41 L216.74,278.05 L216.81,277.68 L216.89,277.32 L216.96,276.96 L217.03,276.60 L217.11,276.24 L217.18,275.88 L217.25,275.53 L217.33,275.18 L217.40,274.82 L217.47,274.47 L217.55,274.13 L217.62,273.78 L217.70,273.43 L217.77,273.09 L217.84,272.75 L217.92,272.41 L217.99,272.07 L218.06,271.73 L218.14,271.40 L218.21,271.06 L218.29,270.73 L218.36,270.40 L218.43,270.07 L218.51,269.74 L218.58,269.41 L218.65,269.09 L218.73,268.76 L218.80,268.44 L218.88,268.12 L218.95,267.80 L219.02,267.48 L219.10,267.17 L219.17,266.85 L219.24,266.54 L219.32,266.22 L219.39,265.91 L219.46,265.60 L219.54,265.29 L219.61,264.99 L219.69,264.68 L219.76,264.38 L219.83,264.07 L219.91,263.77 L219.98,263.47 L220.05,263.17 L220.13,262.87 L220.20,262.57 L220.28,262.28 L220.35,261.98 L220.42,261.69 L220.50,261.40 L220.57,261.11 L220.64,260.82 L220.72,260.53 L220.79,260.24 L220.86,259.96 L220.94,259.67 L221.01,259.39 L221.09,259.11 L221.16,258.83 L221.23,258.55 L221.31,258.27 L221.38,257.99 L221.45,257.71 L221.53,257.44 L221.60,257.17 L221.68,256.89 L221.75,256.62 L221.82,256.35 L221.90,256.08 L221.97,255.81 L222.04,255.54 L222.12,255.28 L222.19,255.01 L222.27,254.75 L222.34,254.48 L222.41,254.22 L222.49,253.96 L222.56,253.70 L222.63,253.44 L222.71,253.18 L222.78,252.93 L222.85,252.67 L222.93,252.42 L223.00,252.16 L223.08,251.91 L223.15,251.66 L223.22,251.41 L223.30,251.16 L223.37,250.91 L223.44,250.66 L223.52,250.41 L223.59,250.17 L223.67,249.92 L223.74,249.68 L223.81,249.44 L223.89,249.19 L223.96,248.95 L224.03,248.71 L224.11,248.47 L224.18,248.23 L224.25,248.00 L224.33,247.76 L224.40,247.53 L224.48,247.29 L224.55,247.06 L224.62,246.82 L224.70,246.59 L224.77,246.36 L224.84,246.13 L224.92,245.90 L224.99,245.67 L225.07,245.44 L225.14,245.22 L225.21,244.99 L225.29,244.77 L225.36,244.54 L225.43,244.32 L225.51,244.10 L225.58,243.87 L225.66,243.65 L225.73,243.43 L225.80,243.21 L225.88,242.99 L225.95,242.78 L227.22,239.13 L228.50,235.71 L229.77,232.49 L231.05,229.45 L232.32,226.57 L233.59,223.85 L234.87,221.27 L236.14,218.83 L237.42,216.50 L238.69,214.29 L239.97,212.18 L241.24,210.17 L242.51,208.24 L243.79,206.41 L245.06,204.65 L246.34,202.96 L247.61,201.34 L248.88,199.79 L250.16,198.30 L251.43,196.87 L252.71,195.49 L253.98,194.16 L255.26,192.87 L256.53,191.64 L257.80,190.45 L259.08,189.29 L260.35,188.18 L261.63,187.10 L262.90,186.06 L264.17,185.05 L265.45,184.07 L266.72,183.12 L268.00,182.20 L269.27,181.31 L270.55,180.45 L271.82,179.60 L273.09,178.79 L274.37,177.99 L275.64,177.22 L276.92,176.47 L278.19,175.73 L279.46,175.02 L280.74,174.33 L282.01,173.65 L283.29,172.99 L284.56,172.34 L285.84,171.72 L287.11,171.10 L288.38,170.50 L289.66,169.92 L290.93,169.35 L292.21,168.79 L293.48,168.25 L294.75,167.71 L296.03,167.19 L297.30,166.68 L298.58,166.18 L299.85,165.69 L301.13,165.22 L302.40,164.75 L303.67,164.29 L304.95,163.84 L306.22,163.40 L307.50,162.97 L308.77,162.54 L310.04,162.13 L311.32,161.72 L312.59,161.32 L313.87,160.93 L315.14,160.55 L316.41,160.17 L317.69,159.80 L318.96,159.43 L320.24,159.08 L321.51,158.73 L322.79,158.38 L324.06,158.04 L325.33,157.71 L326.61,157.38 L327.88,157.06 L329.16,156.74 L330.43,156.43 L331.70,156.13 L332.98,155.83 L334.25,155.53 L335.53,155.24 L336.80,154.95 L338.08,154.67 L339.35,154.39 L340.62,154.12 L341.90,153.85 L343.17,153.58 L344.45,153.32 L345.72,153.06 L346.99,152.81 L348.27,152.56 L349.54,152.31 L350.82,152.07 L352.09,151.83 L353.37,151.59 L354.64,151.36 L355.91,151.13 L357.19,150.90 L358.46,150.68 L359.74,150.46 L361.01,150.24 L362.28,150.03 L363.56,149.82 L364.83,149.61 L366.11,149.40 L367.38,149.20 L368.66,149.00 L369.93,148.80 L371.20,148.61 L372.48,148.41 L373.75,148.22 L375.03,148.04 L376.30,147.85 L377.57,147.67 L378.85,147.49 L380.12,147.31 L381.40,147.13 L382.67,146.96 L383.95,146.78 L385.22,146.61 L386.49,146.44 L387.77,146.28 L389.04,146.11 L390.32,145.95 L391.59,145.79 L392.86,145.63 L394.14,145.47 L395.41,145.32 L396.69,145.16 L397.96,145.01 L399.23,144.86 L400.51,144.71 L401.78,144.57 L403.06,144.42 L404.33,144.28 L405.61,144.14 L406.88,144.00 L408.15,143.86 L409.43,143.72 L410.70,143.58 L411.98,143.45 L413.25,143.31 L414.52,143.18 L415.80,143.05 L417.07,142.92 L418.35,142.79 L419.62,142.67 L420.90,142.54 L422.17,142.42 L423.44,142.29 L424.72,142.17 L425.99,142.05 L427.27,141.93 L428.54,141.81 L429.81,141.70 L431.09,141.58 L432.36,141.47 L433.64,141.35 L434.91,141.24 L436.19,141.13 L437.46,141.02 L438.73,140.91 L440.01,140.80 L441.28,140.69 L442.56,140.58 L443.83,140.48 L445.10,140.37 L446.38,140.27 L447.65,140.17 L448.93,140.07 L450.20,139.97 L451.48,139.87 L452.75,139.77 L454.02,139.67 L455.30,139.57 L456.57,139.47 L457.85,139.38 L459.12,139.28 L460.39,139.19 L461.67,139.10 L462.94,139.00 L464.22,138.91 L465.49,138.82 L466.77,138.73 L468.04,138.64 L469.31,138.55 L470.59,138.46 L471.86,138.38 L473.14,138.29 L474.41,138.21 L475.68,138.12 L476.96,138.04 L478.23,137.95 L479.51,137.87 L480.78,137.79 L482.05,137.71 L483.33,137.62 L484.60,137.54 L485.88,137.46 L487.15,137.38 L488.43,137.31 L489.70,137.23 L490.97,137.15 L492.25,137.07 L493.52,137.00 L494.80,136.92 L496.07,136.85 L497.34,136.77 L498.62,136.70 L499.89,136.63 L501.17,136.55 L502.44,136.48 L503.72,136.41 L504.99,136.34 L506.26,136.27 L507.54,136.20 L508.81,136.13 L510.09,136.06 L511.36,135.99 L512.63,135.92 L513.91,135.85 L515.18,135.79 L516.46,135.72 L517.73,135.65 L519.01,135.59 L520.28,135.52 L521.55,135.46 L522.83,135.39 L524.10,135.33 L525.38,135.27 L526.65,135.20 L527.92,135.14 L529.20,135.08 L530.47,135.02 L531.75,134.96 L533.02,134.90 L534.30,134.84 L535.57,134.78 L536.84,134.72 L538.12,134.66 L539.39,134.60 L540.67,134.54 L541.94,134.48 L543.21,134.42 L544.49,134.37 L545.76,134.31 L547.04,134.25 L548.31,134.20 L549.59,134.14 L550.86,134.09 L552.13,134.03 L553.41,133.98 L554.68,133.92 L555.96,133.87 L557.23,133.81 L558.50,133.76 L559.78,133.71 L561.05,133.65 L562.33,133.60 L563.60,133.55 L564.87,133.50 L566.15,133.45 L567.42,133.40 L568.70,133.35 L569.97,133.30 L571.25,133.25 L572.52,133.20 L573.79,133.15 L575.07,133.10 L576.34,133.05 L577.62,133.00 L578.89,132.95 L580.16,132.90 L581.44,132.86 L582.71,132.81 L583.99,132.76 L585.26,132.71 L586.54,132.67 L587.81,132.62 L589.08,132.58 L590.36,132.53 L591.63,132.48 L592.91,132.44 L594.18,132.39 L595.45,132.35 L596.73,132.31 L598.00,132.26 L599.28,132.22 L600.55,132.17 L601.83,132.13 L603.10,132.09 L604.37,132.04 L605.65,132.00 L606.92,131.96 L608.20,131.92 L609.47,131.88 L610.74,131.83 L612.02,131.79 L613.29,131.75 L614.57,131.71 L615.84,131.67 L617.12,131.63 L618.39,131.59 L619.66,131.55 L620.94,131.51 L622.21,131.47 L623.49,131.43 L624.76,131.39 L626.03,131.35 L627.31,131.31 L628.58,131.28 L629.86,131.24 L631.13,131.20 L632.40,131.16 L633.68,131.12 L634.95,131.09 L636.23,131.05 L637.50,131.01 L638.78,130.97 L640.05,130.94 L641.32,130.90 L642.60,130.87 L643.87,130.83 L645.15,130.79 L646.42,130.76 L647.69,130.72 L648.97,130.69 L650.24,130.65 L651.52,130.62 L652.79,130.58 L654.07,130.55 L655.34,130.51 L656.61,130.48 L657.89,130.44 L659.16,130.41 L660.44,130.38 L661.71,130.34 L662.98,130.31 L664.26,130.28 L665.53,130.24 L666.81,130.21 L668.08,130.18 L669.36,130.15 L670.63,130.11 L671.90,130.08 L673.18,130.05 L674.45,130.02 L675.73,129.99 L677.00,129.95 L678.27,129.92 L679.55,129.89 L680.82,129.86 L682.10,129.83 L683.37,129.80 L684.65,129.77 L685.92,129.74 L687.19,129.71 L688.47,129.68 L689.74,129.65 L691.02,129.62 L692.29,129.59 L693.56,129.56 L694.84,129.53 L696.11,129.50 L697.39,129.47 L698.66,129.44 L699.94,129.41 L701.21,129.38 L702.48,129.36 L703.76,129.33 L705.03,129.30 L706.31,129.27 L707.58,129.24 L708.85,129.22 L710.13,129.19 L711.40,129.16 L712.68,129.13 L713.95,129.11 L715.22,129.08 L716.50,129.05 L717.77,129.02 L719.05,129.00 L720.32,128.97 L721.60,128.94 L722.87,128.92 L724.14,128.89 L725.42,128.87 L726.69,128.84 L727.97,128.81 L729.24,128.79 L730.51,128.76 L731.79,128.74 L733.06,128.71 L734.34,128.69 L735.61,128.66 L736.89,128.64 L738.16,128.61 L739.43,128.59 L740.71,128.56 L741.98,128.54 L743.26,128.51 L744.53,128.49 L745.80,128.46 L747.08,128.44 L748.35,128.42 L749.63,128.39 L750.90,128.37 L752.18,128.34 L753.45,128.32 L754.72,128.30 L756.00,128.27 L757.27,128.25 L758.55,128.23 L759.82,128.20 L761.09,128.18 L762.37,128.16 L763.64,128.14 L764.92,128.11 L766.19,128.09 L767.47,128.07 L768.74,128.05 L770.01,128.02 L771.29,128.00 L772.56,127.98 L773.84,127.96 L775.11,127.94 L776.38,127.91 L777.66,127.89 L778.93,127.87 L780.21,127.85 L781.48,127.83 L782.76,127.81 L784.03,127.79 L785.30,127.77 L786.58,127.74 L787.85,127.72 L789.13,127.70 L790.40,127.68 L791.67,127.66 L792.95,127.64 L794.22,127.62 L795.50,127.60 L796.77,127.58 L798.04,127.56 L799.32,127.54 L800.59,127.52 L801.87,127.50 L803.14,127.48 L804.42,127.46 L805.69,127.44 L806.96,127.42 L808.24,127.40 L809.51,127.38 L810.79,127.36 L812.06,127.34 L813.33,127.33 L814.61,127.31 L815.88,127.29 L817.16,127.27 L818.43,127.25 L819.71,127.23 L820.98,127.21 L822.25,127.19 L823.53,127.18 L824.80,127.16 L826.08,127.14 L827.35,127.12 L828.62,127.10 L829.90,127.09 L831.17,127.07 L832.45,127.05 L833.72,127.03 L835.00,127.01 L836.27,127.00 L837.54,126.98 L838.82,126.96 L840.09,126.94 L841.37,126.93 L842.64,126.91 L843.91,126.89 L845.19,126.88 L846.46,126.86 L847.74,126.84 L849.01,126.83 L850.29,126.81 L851.56,126.79 L852.83,126.78 L854.11,126.76 L855.38,126.74 L856.66,126.73 L857.93,126.71 L859.20,126.69 L860.48,126.68 L861.75,126.66 L863.03,126.65 L864.30,126.63 L865.58,126.61 L866.85,126.60 L868.12,126.58 L869.40,126.57 L870.67,126.55 L871.95,126.53 L873.22,126.52 L874.49,126.50 L875.77,126.49 L877.04,126.47 L878.32,126.46 L879.59,126.44 L880.86,126.43 L882.14,126.41 L883.41,126.40 L884.69,126.38 L885.96,126.37 L887.24,126.35 L888.51,126.34 L889.78,126.32 L891.06,126.31 L892.33,126.30 L893.61,126.28 L894.88,126.27 L896.15,126.25 L897.43,126.24 L898.70,126.22 L899.98,126.21 L901.25,126.20 L902.53,126.18 L903.80,126.17 L905.07,126.15 L906.35,126.14 L907.62,126.13 L908.90,126.11 L910.17,126.10 L911.44,126.09 L912.72,126.07 L913.99,126.06 L915.27,126.05 L916.54,126.03 L917.82,126.02 L919.09,126.01 L920.36,125.99 L921.64,125.98 L922.91,125.97 L924.19,125.95 L925.46,125.94 L926.73,125.93 L928.01,125.92 L929.28,125.90 L930.56,125.89 L931.83,125.88 L933.11,125.86 L934.38,125.85 L935.65,125.84 L936.93,125.83 L938.20,125.81 L939.48,125.80 L940.75,125.79 L942.02,125.78 L943.30,125.77 L944.57,125.75 L945.85,125.74 L947.12,125.73 L948.40,125.72 L949.67,125.71 L950.94,125.69 L952.22,125.68 L953.49,125.67 L954.77,125.66 L956.04,125.65 L957.31,125.64 L958.59,125.63 L959.86,125.61 L961.14,125.60 L962.41,125.59 L963.68,125.58 L964.96,125.57 L966.23,125.56 L967.51,125.55 L968.78,125.54 L970.06,125.52 L971.33,125.51 L972.60,125.50 L973.88,125.49 L975.15,125.48 L976.43,125.47 L977.70,125.46 L978.97,125.45 L980.25,125.44 L981.52,125.43 L982.80,125.42 L984.07,125.41 L985.35,125.40 L986.62,125.39 L987.89,125.38 L989.17,125.37" stroke="#228B22" stroke-width="6.3" stroke-dasharray="0 25.2" stroke-dashoffset="3.0"/>
<path d="M186.07,891.75 L186.15,881.97 L186.22,872.33 L186.30,862.83 L186.37,853.46 L186.44,844.22 L186.52,835.11 L186.59,826.12 L186.66,817.25 L186.74,808.50 L186.81,799.96 L186.88,791.68 L186.96,783.65 L187.03,775.86 L187.11,768.29 L187.18,760.93 L187.25,753.77 L187.33,746.79 L187.40,739.99 L187.47,733.35 L187.55,726.87 L187.62,720.53 L187.70,714.33 L187.77,708.27 L187.84,702.33 L187.92,696.50 L187.99,690.79 L188.06,685.19 L188.14,679.69 L188.21,674.28 L188.29,668.97 L188.36,663.75 L188.43,658.62 L188.51,653.56 L188.58,648.59 L188.65,643.69 L188.73,638.86 L188.80,634.10 L188.87,629.41 L188.95,624.78 L189.02,620.21 L189.10,615.71 L189.17,611.27 L189.24,606.88 L189.32,602.54 L189.39,598.26 L189.46,594.04 L189.54,589.86 L189.61,585.73 L189.69,581.65 L189.76,577.62 L189.83,573.63 L189.91,569.68 L189.98,565.78 L190.05,561.92 L190.13,558.11 L190.20,554.33 L190.28,550.60 L190.35,546.90 L190.42,543.24 L190.50,539.62 L190.57,536.04 L190.64,532.49 L190.72,528.98 L190.79,525.50 L190.86,522.06 L190.94,518.65 L191.01,515.28 L191.09,511.94 L191.16,508.63 L191.23,505.35 L191.31,502.11 L191.38,498.89 L191.45,495.71 L191.53,492.56 L191.60,489.44 L191.68,486.34 L191.75,483.28 L191.82,480.24 L191.90,477.23 L191.97,474.25 L192.04,471.30 L192.12,468.38 L192.19,465.48 L192.26,462.61 L192.34,459.77 L192.41,456.95 L192.49,454.16 L192.56,451.39 L192.63,448.65 L192.71,445.93 L192.78,443.24 L192.85,440.57 L192.93,437.93 L193.00,435.31 L193.08,432.71 L193.15,430.14 L193.22,427.59 L193.30,425.06 L193.37,422.56 L193.44,420.08 L193.52,417.62 L193.59,415.18 L193.67,412.76 L193.74,410.37 L193.81,408.00 L193.89,405.64 L193.96,403.31 L194.03,401.00 L194.11,398.71 L194.18,396.44 L194.25,394.19 L194.33,391.96 L194.40,389.75 L194.48,387.56 L194.55,385.39 L194.62,383.23 L194.70,381.10 L194.77,378.98 L194.84,376.88 L194.92,374.80 L194.99,372.74 L195.07,370.70 L195.14,368.67 L195.21,366.66 L195.29,364.67 L195.36,362.70 L195.43,360.74 L195.51,358.80 L195.58,356.88 L195.65,354.97 L195.73,353.08 L195.80,351.20 L195.88,349.34 L195.95,347.50 L196.02,345.67 L196.10,343.86 L196.17,342.06 L196.24,340.28 L196.32,338.52 L196.39,336.76 L196.47,335.03 L196.54,333.30 L196.61,331.60 L196.69,329.90 L196.76,328.22 L196.83,326.56 L196.91,324.90 L196.98,323.27 L197.06,321.64 L197.13,320.03 L197.20,318.43 L197.28,316.85 L197.35,315.28 L197.42,313.72 L197.50,312.17 L197.57,310.64 L197.64,309.12 L197.72,307.61 L197.79,306.11 L197.87,304.63 L197.94,303.16 L198.01,301.69 L198.09,300.25 L198.16,298.81 L198.23,297.38 L198.31,295.97 L198.38,294.57 L198.46,293.18 L198.53,291.80 L198.60,290.43 L198.68,289.07 L198.75,287.72 L198.82,286.38 L198.90,285.06 L198.97,283.74 L199.05,282.44 L199.12,281.14 L199.19,279.86 L199.27,278.58 L199.34,277.32 L199.41,276.06 L199.49,274.82 L199.56,273.58 L199.63,272.35 L199.71,271.14 L199.78,269.93 L199.86,268.73 L199.93,267.54 L200.00,266.36 L200.08,265.19 L200.15,264.03 L200.22,262.88 L200.30,261.73 L200.37,260.60 L200.45,259.47 L200.52,258.35 L200.59,257.24 L200.67,256.14 L200.74,255.05 L200.81,253.96 L200.89,252.88 L200.96,251.81 L201.03,250.75 L201.11,249.70 L201.18,248.65 L201.26,247.62 L201.33,246.59 L201.40,245.56 L201.48,244.55 L201.55,243.54 L201.62,242.54 L201.70,241.55 L201.77,240.56 L201.85,239.58 L201.92,238.61 L201.99,237.65 L202.07,236.69 L202.14,235.74 L202.21,234.80 L202.29,233.86 L202.36,232.93 L202.44,232.01 L202.51,231.09 L202.58,230.18 L202.66,229.27 L202.73,228.38 L202.80,227.49 L202.88,226.60 L202.95,225.72 L203.02,224.85 L203.10,223.98 L203.17,223.12 L203.25,222.27 L203.32,221.42 L203.39,220.58 L203.47,219.74 L203.54,218.91 L203.61,218.08 L203.69,217.26 L203.76,216.45 L203.84,215.64 L203.91,214.84 L203.98,214.04 L204.06,213.25 L204.13,212.46 L204.20,211.68 L204.28,210.90 L204.35,210.13 L204.43,209.37 L204.50,208.60 L204.57,207.85 L204.65,207.10 L204.72,206.35 L204.79,205.61 L204.87,204.88 L204.94,204.15 L205.01,203.42 L205.09,202.70 L205.16,201.98 L205.24,201.27 L205.31,200.56 L205.38,199.86 L205.46,199.16 L205.53,198.47 L205.60,197.78 L205.68,197.10 L205.75,196.42 L205.83,195.74 L205.90,195.07 L205.97,194.40 L206.05,193.74 L206.12,193.08 L206.19,192.43 L206.27,191.78 L206.34,191.13 L206.41,190.49 L206.49,189.85 L206.56,189.22 L206.64,188.59 L206.71,187.96 L206.78,187.34 L206.86,186.72 L206.93,186.11 L207.00,185.49 L207.08,184.89 L207.15,184.28 L207.23,183.69 L207.30,183.09 L207.37,182.50 L207.45,181.91 L207.52,181.32 L207.59,180.74 L207.67,180.17 L207.74,179.59 L207.82,179.02 L207.89,178.45 L207.96,177.89 L208.04,177.33 L208.11,176.77 L208.18,176.22 L208.26,175.67 L208.33,175.12 L208.40,174.58 L208.48,174.04 L208.55,173.50 L208.63,172.96 L208.70,172.43 L208.77,171.90 L208.85,171.38 L208.92,170.86 L208.99,170.34 L209.07,169.82 L209.14,169.31 L209.22,168.80 L209.29,168.29 L209.36,167.79 L209.44,167.29 L209.51,166.79 L209.58,166.30 L209.66,165.80 L209.73,165.31 L209.80,164.83 L209.88,164.34 L209.95,163.86 L210.03,163.38 L210.10,162.91 L210.17,162.43 L210.25,161.96 L210.32,161.49 L210.39,161.03 L210.47,160.57 L210.54,160.11 L210.62,159.65 L210.69,159.19 L210.76,158.74 L210.84,158.29 L210.91,157.84 L210.98,157.40 L211.06,156.95 L211.13,156.51 L211.21,156.08 L211.28,155.64 L211.35,155.21 L211.43,154.78 L211.50,154.35 L211.57,153.92 L211.65,153.50 L211.72,153.08 L211.79,152.66 L211.87,152.24 L211.94,151.83 L212.02,151.41 L212.09,151.00 L212.16,150.60 L212.24,150.19 L212.31,149.79 L212.38,149.38 L212.46,148.98 L212.53,148.59 L212.61,148.19 L212.68,147.80 L212.75,147.41 L212.83,147.02 L212.90,146.63 L212.97,146.24 L213.05,145.86 L213.12,145.48 L213.20,145.10 L213.27,144.72 L213.34,144.35 L213.42,143.97 L213.49,143.60 L213.56,143.23 L213.64,142.86 L213.71,142.50 L213.78,142.13 L213.86,141.77 L213.93,141.41 L214.01,141.05 L214.08,140.70 L214.15,140.34 L214.23,139.99 L214.30,139.64 L214.37,139.29 L214.45,138.94 L214.52,138.59 L214.60,138.25 L214.67,137.90 L214.74,137.56 L214.82,137.22 L214.89,136.89 L214.96,136.55 L215.04,136.22 L215.11,135.88 L215.18,135.55 L215.26,135.22 L215.33,134.89 L215.41,134.57 L215.48,134.24 L215.55,133.92 L215.63,133.60 L215.70,133.28 L215.77,132.96 L215.85,132.64 L215.92,132.32 L216.00,132.01 L216.07,131.70 L216.14,131.39 L216.22,131.08 L216.29,130.77 L216.36,130.46 L216.44,130.16 L216.51,129.85 L216.59,129.55 L216.66,129.25 L216.73,128.95 L216.81,128.65 L216.88,128.35 L216.95,128.06 L217.03,127.76 L217.10,127.47 L217.17,127.18 L217.25,126.89 L217.32,126.60 L217.40,126.31 L217.47,126.03 L217.54,125.74 L217.62,125.46 L217.69,125.17 L217.76,124.89 L217.84,124.61 L217.91,124.34 L217.99,124.06 L218.06,123.78 L218.13,123.51 L218.21,123.23 L218.28,122.96 L218.35,122.69 L218.43,122.42 L218.50,122.15 L218.58,121.88 L218.65,121.62 L218.72,121.35 L218.80,121.09 L218.87,120.82 L218.94,120.56 L219.02,120.30 L219.09,120.04 L219.16,119.78 L219.24,119.53 L219.31,119.27 L219.39,119.02 L219.46,118.76 L219.53,118.51 L219.61,118.26 L219.68,118.01 L219.75,117.76 L219.83,117.51 L219.90,117.26 L219.98,117.02 L220.05,116.77 L220.12,116.53 L220.20,116.28 L220.27,116.04 L220.34,115.80 L220.42,115.56 L220.49,115.32 L220.56,115.08 L220.64,114.84 L220.71,114.61 L220.79,114.37 L220.86,114.14 L220.93,113.91 L221.01,113.67 L221.08,113.44 L221.15,113.21 L221.23,112.98 L221.30,112.75 L221.38,112.53 L221.45,112.30 L221.52,112.07 L221.60,111.85 L221.67,111.63 L221.74,111.40 L221.82,111.18 L221.89,110.96 L221.97,110.74 L222.04,110.52 L222.11,110.30 L222.19,110.08 L222.26,109.87 L222.33,109.65 L222.41,109.44 L222.48,109.22 L222.55,109.01 L222.63,108.80 L222.70,108.59 L222.78,108.38 L222.85,108.17 L222.92,107.96 L223.00,107.75 L223.07,107.54 L223.14,107.33 L223.22,107.13 L223.29,106.92 L223.37,106.72 L223.44,106.52 L223.51,106.31 L223.59,106.11 L223.66,105.91 L223.73,105.71 L223.81,105.51 L223.88,105.31 L223.95,105.11 L224.03,104.92 L224.10,104.72 L224.18,104.53 L224.25,104.33 L224.32,104.14 L224.40,103.94 L224.47,103.75 L224.54,103.56 L224.62,103.37 L224.69,103.18 L224.77,102.99 L224.84,102.80 L224.91,102.61 L224.99,102.42 L225.06,102.23 L225.13,102.05 L225.21,101.86 L225.28,101.68 L225.36,101.49 L225.43,101.31 L225.50,101.13 L225.58,100.95 L225.65,100.76 L226.93,97.73 L228.22,94.88 L229.51,92.19 L230.79,89.66 L232.08,87.26 L233.36,84.99 L234.64,82.85 L235.93,80.81 L237.21,78.87 L238.49,77.02 L239.77,75.27 L241.05,73.59 L242.33,71.99 L243.61,70.45 L244.90,68.99 L246.18,67.58 L247.46,66.24 L248.74,64.94 L250.01,63.70 L251.29,62.50 L252.57,61.35 L253.85,60.25 L255.13,59.18 L256.41,58.15 L257.69,57.15 L258.97,56.19 L260.24,55.27 L261.52,54.37 L262.80,53.50 L264.08,52.66 L265.36,51.84 L266.63,51.05 L267.91,50.29 L269.19,49.54 L270.46,48.82 L271.74,48.12 L273.02,47.44 L274.30,46.78 L275.57,46.13 L276.85,45.50 L278.13,44.89 L279.40,44.30 L280.68,43.72 L281.96,43.16 L283.23,42.61 L284.51,42.07 L285.79,41.55 L287.06,41.04 L288.34,40.54 L289.61,40.05 L290.89,39.57 L292.17,39.11 L293.44,38.66 L294.72,38.21 L296.00,37.78 L297.27,37.35 L298.55,36.94 L299.82,36.53 L301.10,36.13 L302.37,35.74 L303.65,35.36 L304.93,34.98 L306.20,34.62 L307.48,34.26 L308.75,33.90 L310.03,33.56 L311.30,33.22 L312.58,32.89 L313.86,32.56 L315.13,32.24 L316.41,31.92 L317.68,31.62 L318.96,31.31 L320.23,31.01 L321.51,30.72 L322.78,30.43 L324.06,30.15 L325.33,29.87 L326.61,29.60 L327.88,29.33 L329.16,29.07 L330.43,28.81 L331.70,28.56 L332.98,28.30 L334.25,28.06 L335.53,27.81 L336.80,27.58 L338.08,27.34 L339.35,27.11 L340.62,26.88 L341.90,26.66 L343.17,26.43 L344.45,26.22 L345.72,26.00 L346.99,25.79 L348.27,25.58 L349.54,25.38 L350.82,25.17 L352.09,24.97 L353.37,24.78 L354.64,24.58 L355.91,24.39 L357.19,24.20 L358.46,24.02 L359.74,23.83 L361.01,23.65 L362.28,23.47 L363.56,23.30 L364.83,23.12 L366.11,22.95 L367.38,22.78 L368.66,22.62 L369.93,22.45 L371.20,22.29 L372.48,22.13 L373.75,21.97 L375.03,21.81 L376.30,21.66 L377.57,21.51 L378.85,21.35 L380.12,21.21 L381.40,21.06 L382.67,20.91 L383.95,20.77 L385.22,20.63 L386.49,20.49 L387.77,20.35 L389.04,20.21 L390.32,20.08 L391.59,19.94 L392.86,19.81 L394.14,19.68 L395.41,19.55 L396.69,19.42 L397.96,19.29 L399.23,19.17 L400.51,19.04 L401.78,18.92 L403.06,18.80 L404.33,18.68 L405.61,18.56 L406.88,18.45 L408.15,18.33 L409.43,18.22 L410.70,18.10 L411.98,17.99 L413.25,17.88 L414.52,17.77 L415.80,17.66 L417.07,17.55 L418.35,17.44 L419.62,17.34 L420.90,17.23 L422.17,17.13 L423.44,17.03 L424.72,16.93 L425.99,16.83 L427.27,16.73 L428.54,16.63 L429.81,16.53 L431.09,16.43 L432.36,16.34 L433.64,16.24 L434.91,16.15 L436.19,16.06 L437.46,15.96 L438.73,15.87 L440.01,15.78 L441.28,15.69 L442.56,15.60 L443.83,15.52 L445.10,15.43 L446.38,15.34 L447.65,15.26 L448.93,15.17 L450.20,15.09 L451.48,15.00 L452.75,14.92 L454.02,14.84 L455.30,14.76 L456.57,14.68 L457.85,14.60 L459.12,14.52 L460.39,14.44 L461.67,14.36 L462.94,14.29 L464.22,14.21 L465.49,14.13 L466.77,14.06 L468.04,13.98 L469.31,13.91 L470.59,13.84 L471.86,13.76 L473.14,13.69 L474.41,13.62 L475.68,13.55 L476.96,13.48 L478.23,13.41 L479.51,13.34 L480.78,13.27 L482.05,13.20 L483.33,13.14 L484.60,13.07 L485.88,13.00 L487.15,12.94 L488.43,12.87 L489.70,12.81 L490.97,12.74 L492.25,12.68 L493.52,12.61 L494.80,12.55 L496.07,12.49 L497.34,12.43 L498.62,12.37 L499.89,12.30 L501.17,12.24 L502.44,12.18 L503.72,12.12 L504.99,12.06 L506.26,12.01 L507.54,11.95 L508.81,11.89 L510.09,11.83 L511.36,11.77 L512.63,11.72 L513.91,11.66 L515.18,11.61 L516.46,11.55 L517.73,11.50 L519.01,11.44 L520.28,11.39 L521.55,11.33 L522.83,11.28 L524.10,11.23 L525.38,11.17 L526.65,11.12 L527.92,11.07 L529.20,11.02 L530.47,10.96 L531.75,10.91 L533.02,10.86 L534.30,10.81 L535.57,10.76 L536.84,10.71 L538.12,10.66 L539.39,10.61 L540.67,10.57 L541.94,10.52 L543.21,10.47 L544.49,10.42 L545.76,10.37 L547.04,10.33 L548.31,10.28 L549.59,10.23 L550.86,10.19 L552.13,10.14 L553.41,10.10 L554.68,10.05 L555.96,10.01 L557.23,9.96 L558.50,9.92 L559.78,9.87 L561.05,9.83 L562.33,9.79 L563.60,9.74 L564.87,9.70 L566.15,9.66 L567.42,9.61 L568.70,9.57 L569.97,9.53 L571.25,9.49 L572.52,9.45 L573.79,9.41 L575.07,9.36 L576.34,9.32 L577.62,9.28 L578.89,9.24 L580.16,9.20 L581.44,9.16 L582.71,9.12 L583.99,9.08 L585.26,9.05 L586.54,9.01 L587.81,8.97 L589.08,8.93 L590.36,8.89 L591.63,8.85 L592.91,8.82 L594.18,8.78 L595.45,8.74 L596.73,8.70 L598.00,8.67 L599.28,8.63 L600.55,8.60 L601.83,8.56 L603.10,8.52 L604.37,8.49 L605.65,8.45 L606.92,8.42 L608.20,8.38 L609.47,8.35 L610.74,8.31 L612.02,8.28 L613.29,8.24 L614.57,8.21 L615.84,8.17 L617.12,8.14 L618.39,8.11 L619.66,8.07 L620.94,8.04 L622.21,8.01 L623.49,7.98 L624.76,7.94 L626.03,7.91 L627.31,7.88 L628.58,7.85 L629.86,7.81 L631.13,7.78 L632.40,7.75 L633.68,7.72 L634.95,7.69 L636.23,7.66 L637.50,7.63 L638.78,7.60 L640.05,7.56 L641.32,7.53 L642.60,7.50 L643.87,7.47 L645.15,7.44 L646.42,7.41 L647.69,7.38 L648.97,7.36 L650.24,7.33 L651.52,7.30 L652.79,7.27 L654.07,7.24 L655.34,7.21 L656.61,7.18 L657.89,7.15 L659.16,7.13 L660.44,7.10 L661.71,7.07 L662.98,7.04 L664.26,7.01 L665.53,6.99 L666.81,6.96 L668.08,6.93 L669.36,6.90 L670.63,6.88 L671.90,6.85 L673.18,6.82 L674.45,6.80 L675.73,6.77 L677.00,6.75 L678.27,6.72 L679.55,6.69 L680.82,6.67 L682.10,6.64 L683.37,6.62 L684.65,6.59 L685.92,6.57 L687.19,6.54 L688.47,6.51 L689.74,6.49 L691.02,6.47 L692.29,6.44 L693.56,6.42 L694.84,6.39 L696.11,6.37 L697.39,6.34 L698.66,6.32 L699.94,6.29 L701.21,6.27 L702.48,6.25 L703.76,6.22 L705.03,6.20 L706.31,6.18 L707.58,6.15 L708.85,6.13 L710.13,6.11 L711.40,6.08 L712.68,6.06 L713.95,6.04 L715.22,6.02 L716.50,5.99 L717.77,5.97 L719.05,5.95 L720.32,5.93 L721.60,5.90 L722.87,5.88 L724.14,5.86 L725.42,5.84 L726.69,5.82 L727.97,5.79 L729.24,5.77 L730.51,5.75 L731.79,5.73 L733.06,5.71 L734.34,5.69 L735.61,5.67 L736.89,5.65 L738.16,5.63 L739.43,5.61 L740.71,5.58 L741.98,5.56 L743.26,5.54 L744.53,5.52 L745.80,5.50 L747.08,5.48 L748.35,5.46 L749.63,5.44 L750.90,5.42 L752.18,5.40 L753.45,5.38 L754.72,5.36 L756.00,5.34 L757.27,5.33 L758.55,5.31 L759.82,5.29 L761.09,5.27 L762.37,5.25 L763.64,5.23 L764.92,5.21 L766.19,5.19 L767.47,5.17 L768.74,5.15 L770.01,5.14 L771.29,5.12 L772.56,5.10 L773.84,5.08 L775.11,5.06 L776.38,5.05 L777.66,5.03 L778.93,5.01 L780.21,4.99 L781.48,4.97 L782.76,4.96 L784.03,4.94 L785.30,4.92 L786.58,4.90 L787.85,4.89 L789.13,4.87 L790.40,4.85 L791.67,4.83 L792.95,4.82 L794.22,4.80 L795.50,4.78 L796.77,4.77 L798.04,4.75 L799.32,4.73 L800.59,4.72 L801.87,4.70 L803.14,4.68 L804.42,4.67 L805.69,4.65 L806.96,4.63 L808.24,4.62 L809.51,4.60 L810.79,4.59 L812.06,4.57 L813.33,4.55 L814.61,4.54 L815.88,4.52 L817.16,4.51 L818.43,4.49 L819.71,4.48 L820.98,4.46 L822.25,4.45 L823.53,4.43 L824.80,4.41 L826.08,4.40 L827.35,4.38 L828.62,4.37 L829.90,4.35 L831.17,4.34 L832.45,4.32 L833.72,4.31 L835.00,4.30 L836.27,4.28 L837.54,4.27 L838.82,4.25 L840.09,4.24 L841.37,4.22 L842.64,4.21 L843.91,4.19 L845.19,4.18 L846.46,4.17 L847.74,4.15 L849.01,4.14 L850.29,4.12 L851.56,4.11 L852.83,4.10 L854.11,4.08 L855.38,4.07 L856.66,4.05 L857.93,4.04 L859.20,4.03 L860.48,4.01 L861.75,4.00 L863.03,3.99 L864.30,3.97 L865.58,3.96 L866.85,3.95 L868.12,3.93 L869.40,3.92 L870.67,3.91 L871.95,3.90 L873.22,3.88 L874.49,3.87 L875.77,3.86 L877.04,3.84 L878.32,3.83 L879.59,3.82 L880.86,3.81 L882.14,3.79 L883.41,3.78 L884.69,3.77 L885.96,3.76 L887.24,3.74 L888.51,3.73 L889.78,3.72 L891.06,3.71 L892.33,3.70 L893.61,3.68 L894.88,3.67 L896.15,3.66 L897.43,3.65 L898.70,3.64 L899.98,3.62 L901.25,3.61 L902.53,3.60 L903.80,3.59 L905.07,3.58 L906.35,3.57 L907.62,3.56 L908.90,3.54 L910.17,3.53 L911.44,3.52 L912.72,3.51 L913.99,3.50 L915.27,3.49 L916.54,3.48 L917.82,3.47 L919.09,3.45 L920.36,3.44 L921.64,3.43 L922.91,3.42 L924.19,3.41 L925.46,3.40 L926.73,3.39 L928.01,3.38 L929.28,3.37 L930.56,3.36 L931.83,3.35 L933.11,3.34 L934.38,3.33 L935.65,3.32 L936.93,3.31 L938.20,3.30 L939.48,3.29 L940.75,3.28 L942.02,3.27 L943.30,3.26 L944.57,3.25 L945.85,3.24 L947.12,3.23 L948.40,3.22 L949.67,3.21 L950.94,3.20 L952.22,3.19 L953.49,3.18 L954.77,3.17 L956.04,3.16 L957.31,3.15 L958.59,3.14 L959.86,3.13 L961.14,3.12 L962.41,3.11 L963.68,3.10 L964.96,3.09 L966.23,3.08 L967.51,3.07 L968.78,3.06 L970.06,3.05 L971.33,3.04 L972.60,3.04 L973.88,3.03 L975.15,3.02 L976.43,3.01 L977.70,3.00 L978.97,2.99 L980.25,2.98 L981.52,2.97 L982.80,2.96 L984.07,2.96 L985.35,2.95 L986.62,2.94 L987.89,2.93 L989.17,2.92" stroke="#551A8B" stroke-width="6.3" stroke-dasharray="0 25.2 18.9 25.2" stroke-dashoffset="16.1"/>
<path d="M144.5,615.34 L1024.0,615.34" stroke="#4F94CD" stroke-width="5.25"/>
<path d="M144.5,309.18 L1024.0,309.18" stroke="#EE7600" stroke-width="5.25" stroke-dasharray="15.75 26.25"/>
<path d="M144.5,125.50 L1024.0,125.50" stroke="#228B22" stroke-width="5.25" stroke-dasharray="0 21"/>
<path d="M144.5,3.02 L1024.0,3.02" stroke="#551A8B" stroke-width="5.25" stroke-dasharray="0 21 15.75 21"/>
</g>
<rect x="144.5" y="0.8" width="879.5" height="877.0" fill="none" stroke="#000" stroke-width="1.75"/>
<text x="877.6" y="641.5" font-size="30.65" fill="#4F94CD" text-anchor="middle">−0.042084</text>
<text x="877.6" y="335.4" font-size="30.65" fill="#EE7600" text-anchor="middle">−0.031563</text>
<text x="877.6" y="151.7" font-size="30.65" fill="#228B22" text-anchor="middle">−0.025251</text>
<text x="877.6" y="29.2" font-size="30.65" fill="#551A8B" text-anchor="middle">−0.021042</text>
<path d="M176.90,877.8 V898.8" stroke="#000" stroke-width="1.75"/>
<text transform="translate(176.90,938.6) scale(1,1.07)" font-size="33.6" text-anchor="middle">0</text>
<path d="M340.40,877.8 V898.8" stroke="#000" stroke-width="1.75"/>
<text transform="translate(340.40,938.6) scale(1,1.07)" font-size="33.6" text-anchor="middle">10</text>
<path d="M503.90,877.8 V898.8" stroke="#000" stroke-width="1.75"/>
<text transform="translate(503.90,938.6) scale(1,1.07)" font-size="33.6" text-anchor="middle">20</text>
<path d="M667.40,877.8 V898.8" stroke="#000" stroke-width="1.75"/>
<text transform="translate(667.40,938.6) scale(1,1.07)" font-size="33.6" text-anchor="middle">30</text>
<path d="M830.90,877.8 V898.8" stroke="#000" stroke-width="1.75"/>
<text transform="translate(830.90,938.6) scale(1,1.07)" font-size="33.6" text-anchor="middle">40</text>
<path d="M994.40,877.8 V898.8" stroke="#000" stroke-width="1.75"/>
<text transform="translate(994.40,938.6) scale(1,1.07)" font-size="33.6" text-anchor="middle">50</text>
<path d="M144.5,118.20 H123.5" stroke="#000" stroke-width="1.75"/>
<text transform="translate(109.0,117.80) rotate(-90) scale(1,1.07)" font-size="33.6" text-anchor="middle">−0.025</text>
<path d="M144.5,263.70 H123.5" stroke="#000" stroke-width="1.75"/>
<text transform="translate(109.0,263.30) rotate(-90) scale(1,1.07)" font-size="33.6" text-anchor="middle">−0.030</text>
<path d="M144.5,409.20 H123.5" stroke="#000" stroke-width="1.75"/>
<text transform="translate(109.0,408.80) rotate(-90) scale(1,1.07)" font-size="33.6" text-anchor="middle">−0.035</text>
<path d="M144.5,554.70 H123.5" stroke="#000" stroke-width="1.75"/>
<text transform="translate(109.0,554.30) rotate(-90) scale(1,1.07)" font-size="33.6" text-anchor="middle">−0.040</text>
<path d="M144.5,700.20 H123.5" stroke="#000" stroke-width="1.75"/>
<text transform="translate(109.0,699.80) rotate(-90) scale(1,1.07)" font-size="33.6" text-anchor="middle">−0.045</text>
<path d="M144.5,845.70 H123.5" stroke="#000" stroke-width="1.75"/>
<text transform="translate(109.0,845.30) rotate(-90) scale(1,1.07)" font-size="33.6" text-anchor="middle">−0.050</text>
<text transform="translate(584.7,990.8) scale(1,1.05)" font-size="33.6" text-anchor="middle">t</text>
<g transform="translate(44.2,531.8) rotate(-90)">
<text x="19.4" y="0" font-size="39.6">J</text>
<path d="M52.90,-34.2 A26.1 26.1 0 0 0 52.90,9.5 A34.5 34.5 0 0 1 52.90,-34.2 Z" fill="#000" stroke="#000" stroke-width="0.5" stroke-linejoin="round"/>
<text x="55.0" y="0" font-size="39.6">T</text>
<text x="79.2" y="7.5" font-size="28.0">3</text>
<text x="93.4" y="7.5" font-size="28.0">,</text>
<text x="108.1" y="7.5" font-size="28.0">n</text>
<path d="M138.70,-34.2 A26.1 26.1 0 0 0 138.70,9.5 A34.5 34.5 0 0 1 138.70,-34.2 Z" fill="#000" stroke="#000" stroke-width="0.5" stroke-linejoin="round"/>
<text x="141.3" y="0" font-size="39.6">t</text>
<path d="M153.90,-34.2 A26.1 26.1 0 0 1 153.90,9.5 A34.5 34.5 0 0 0 153.90,-34.2 Z" fill="#000" stroke="#000" stroke-width="0.5" stroke-linejoin="round"/>
<path d="M171.00,-34.2 A26.1 26.1 0 0 1 171.00,9.5 A34.5 34.5 0 0 0 171.00,-34.2 Z" fill="#000" stroke="#000" stroke-width="0.5" stroke-linejoin="round"/>
</g>
<g transform="translate(5,505) scale(0.05855)" fill="none" stroke="#000" stroke-linecap="round" stroke-linejoin="round"><path d="M162,368 C175,412 215,422 240,385 C258,350 235,300 205,255" stroke-width="24"/><path d="M240,345 C236,310 220,275 202,254" stroke-width="46"/><path d="M236,385 C236,340 225,300 205,262" stroke-width="30"/><path d="M245,378 C290,418 350,400 375,340 C392,295 388,245 374,220" stroke-width="20"/><path d="M387,315 C389,275 384,245 374,224" stroke-width="46"/><path d="M384,345 C388,300 386,260 376,228" stroke-width="30"/><path d="M385,345 C420,420 500,455 545,445" stroke-width="20"/><path d="M470,428 C500,446 530,450 560,441" stroke-width="30"/><path d="M545,444 C620,428 650,350 640,270 C634,200 700,166 748,188 C796,210 808,258 790,300" stroke-width="48"/><path d="M795,250 C802,275 798,295 788,305" stroke-width="54"/></g>
<rect x="833.0" y="676.0" width="191.0" height="201.79999999999995" fill="#fff" stroke="#000" stroke-width="1.75"/>
<g fill="none" stroke-linecap="round">
<path d="M863.7,716.80 H923.3" stroke="#4F94CD" stroke-width="6.3"/>
<text transform="translate(954.3,729.20) scale(1,1.06)" font-size="33.6" fill="#000" stroke="none">n=8</text>
<path d="M863.7,757.05 H923.3" stroke="#EE7600" stroke-width="6.3" stroke-dasharray="18.9 31.5"/>
<text transform="translate(954.3,769.45) scale(1,1.06)" font-size="33.6" fill="#000" stroke="none">n=7</text>
<path d="M863.7,797.30 H923.3" stroke="#228B22" stroke-width="6.3" stroke-dasharray="0 25.2"/>
<text transform="translate(954.3,809.70) scale(1,1.06)" font-size="33.6" fill="#000" stroke="none">n=6</text>
<path d="M863.7,837.55 H923.3" stroke="#551A8B" stroke-width="6.3" stroke-dasharray="0 25.2 18.9 25.2"/>
<text transform="translate(954.3,849.95) scale(1,1.06)" font-size="33.6" fill="#000" stroke="none">n=5</text>
</g>
</svg></body></html>
